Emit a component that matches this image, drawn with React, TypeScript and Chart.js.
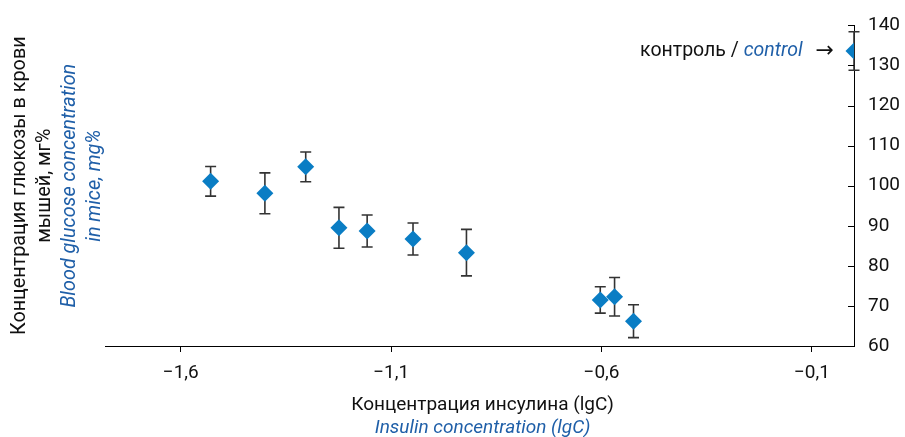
import React, { useEffect, useRef } from 'react';
import { Chart, registerables } from 'chart.js';

Chart.register(...registerables);

// Data (lg of insulin concentration vs blood glucose, mg%)
const insulinLg = [-1.529, -1.4, -1.303, -1.224, -1.157, -1.048, -0.921, -0.603, -0.569, -0.524];
const glucose = [101.1, 98.1, 104.7, 89.5, 88.7, 86.7, 83.3, 71.5, 72.3, 66.2];
const glucoseErr = [3.7, 5.1, 3.7, 5.1, 4.0, 4.0, 5.8, 3.3, 4.8, 4.1];
const controlLg = [0];
const controlGlucose = [133.6];
const controlErr = [4.8];

const xTickValues = [-1.6, -1.1, -0.6, -0.1];
const xTickLabels = ['−1,6', '−1,1', '−0,6', '−0,1'];
const yTickValues = [60, 70, 80, 90, 100, 110, 120, 130, 140];

const yTitleRu = ['Концентрация глюкозы в крови', 'мышей, мг%'];
const yTitleEn = ['Blood glucose concentration', 'in mice, mg%'];
const xTitleRu = 'Концентрация инсулина (lgC)';
const xTitleEn = 'Insulin concentration (lgC)';
const controlRu = 'контроль / ';
const controlEn = 'control';
const controlArrow = '→';

const FONT = 'Roboto';
const BLUE = '#0a7dc4';
const TEXT_BLUE = '#1f5fa8';
const ERR = '#333333';

export default function App() {
  const ref = useRef<HTMLCanvasElement | null>(null);

  useEffect(() => {
    if (!ref.current) return;

    const errs: number[][] = [glucoseErr, controlErr];

    const decor = {
      id: 'decor',
      beforeDatasetsDraw(chart: any) {
        const ctx = chart.ctx;
        const ys = chart.scales.y;
        ctx.save();
        ctx.strokeStyle = ERR;
        ctx.lineWidth = 1.6;
        chart.data.datasets.forEach((ds: any, di: number) => {
          const meta = chart.getDatasetMeta(di);
          ds.data.forEach((p: any, i: number) => {
            const el = meta.data[i];
            const e = errs[di][i];
            const x = el.x;
            const yt = ys.getPixelForValue(p.y + e);
            const yb = ys.getPixelForValue(p.y - e);
            ctx.beginPath();
            ctx.moveTo(x, yt);
            ctx.lineTo(x, yb);
            ctx.moveTo(x - 5.5, yt);
            ctx.lineTo(x + 5.5, yt);
            ctx.moveTo(x - 5.5, yb);
            ctx.lineTo(x + 5.5, yb);
            ctx.stroke();
          });
        });
        ctx.restore();
      },
      afterDraw(chart: any) {
        const ctx = chart.ctx;
        const ca = chart.chartArea;
        const ys = chart.scales.y;
        ctx.save();
        // inward y tick marks
        ctx.strokeStyle = '#000';
        ctx.lineWidth = 1;
        yTickValues.forEach((v) => {
          const y = Math.round(ys.getPixelForValue(v)) + 0.5;
          ctx.beginPath();
          ctx.moveTo(ca.right - 6, y);
          ctx.lineTo(ca.right, y);
          ctx.stroke();
        });

        // y title (rotated)
        const cy = (ca.top + ca.bottom) / 2;
        const linesX = [20, 45, 70, 95];
        const lines = [
          { t: yTitleRu[0], c: '#111', s: 'normal' },
          { t: yTitleRu[1], c: '#111', s: 'normal' },
          { t: yTitleEn[0], c: TEXT_BLUE, s: 'italic' },
          { t: yTitleEn[1], c: TEXT_BLUE, s: 'italic' },
        ];
        lines.forEach((l, i) => {
          ctx.save();
          ctx.translate(linesX[i], cy);
          ctx.rotate(-Math.PI / 2);
          ctx.font = `${l.s} 19.8px ${FONT}`;
          ctx.fillStyle = l.c;
          ctx.textAlign = 'center';
          ctx.textBaseline = 'middle';
          ctx.fillText(l.t, 0, 0);
          ctx.restore();
        });

        // x title
        const cx = (ca.left + ca.right) / 2;
        ctx.textAlign = 'center';
        ctx.textBaseline = 'middle';
        ctx.font = `normal 19px ${FONT}`;
        ctx.fillStyle = '#111';
        ctx.fillText(xTitleRu, cx + 3, 405);
        ctx.font = `italic 19px ${FONT}`;
        ctx.fillStyle = TEXT_BLUE;
        ctx.fillText(xTitleEn, cx + 3, 428);

        // control label
        const cmeta = chart.getDatasetMeta(1);
        const pt = cmeta.data[0];
        let xr = pt.x - 20;
        const yc = pt.y;
        ctx.textAlign = 'right';
        ctx.textBaseline = 'middle';
        ctx.font = `normal 22px "DejaVu Sans"`;
        ctx.fillStyle = '#111';
        ctx.fillText(controlArrow, xr, yc);
        xr -= ctx.measureText(controlArrow).width + 13;
        ctx.font = `italic 19.5px ${FONT}`;
        ctx.fillStyle = TEXT_BLUE;
        ctx.fillText(controlEn, xr, yc);
        xr -= ctx.measureText(controlEn).width;
        ctx.font = `normal 19.5px ${FONT}`;
        ctx.fillStyle = '#111';
        ctx.fillText(controlRu, xr, yc);
        ctx.restore();
      },
    };

    const chart = new Chart(ref.current, {
      type: 'scatter',
      data: {
        datasets: [
          {
            data: insulinLg.map((x, i) => ({ x, y: glucose[i] })),
            backgroundColor: BLUE,
            borderColor: BLUE,
            pointStyle: 'rectRot',
            pointRadius: 8.5,
            borderWidth: 0,
          },
          {
            data: controlLg.map((x, i) => ({ x, y: controlGlucose[i] })),
            backgroundColor: BLUE,
            borderColor: BLUE,
            pointStyle: 'rectRot',
            pointRadius: 8.5,
            borderWidth: 0,
          },
        ],
      },
      options: {
        animation: false,
        responsive: false,
        layout: { padding: { left: 105, top: 20, right: 0, bottom: 0 } },
        plugins: {
          legend: { display: false },
          tooltip: { enabled: false },
        },
        scales: {
          x: {
            type: 'linear',
            min: -1.78,
            max: 0,
            afterFit: (s: any) => {
              s.height = 91;
            },
            afterBuildTicks: (s: any) => {
              s.ticks = xTickValues.map((v) => ({ value: v }));
            },
            ticks: {
              callback: (v: any) => {
                const i = xTickValues.findIndex((t) => Math.abs(t - v) < 1e-6);
                return i >= 0 ? xTickLabels[i] : '';
              },
              font: { family: FONT, size: 19 },
              color: '#111',
              padding: 10,
              maxRotation: 0,
              autoSkip: false,
            },
            grid: { drawOnChartArea: false, tickLength: 6, color: '#000' },
            border: { display: true, color: '#000', width: 1 },
          },
          y: {
            type: 'linear',
            position: 'right',
            min: 60,
            max: 140,
            afterFit: (s: any) => {
              s.width = 51;
            },
            afterBuildTicks: (s: any) => {
              s.ticks = yTickValues.map((v) => ({ value: v }));
            },
            ticks: {
              font: { family: FONT, size: 19 },
              color: '#111',
              padding: 14,
              autoSkip: false,
            },
            grid: { drawOnChartArea: false, drawTicks: false, color: '#000' },
            border: { display: true, color: '#000', width: 1 },
          },
        },
      },
      plugins: [decor],
    });

    return () => chart.destroy();
  }, []);

  return (
    <div style={{ position: 'fixed', left: 0, top: 0, width: 905, height: 437, background: '#fff' }}>
      <canvas ref={ref} width={905} height={437} style={{ width: 905, height: 437 }} />
    </div>
  );
}
